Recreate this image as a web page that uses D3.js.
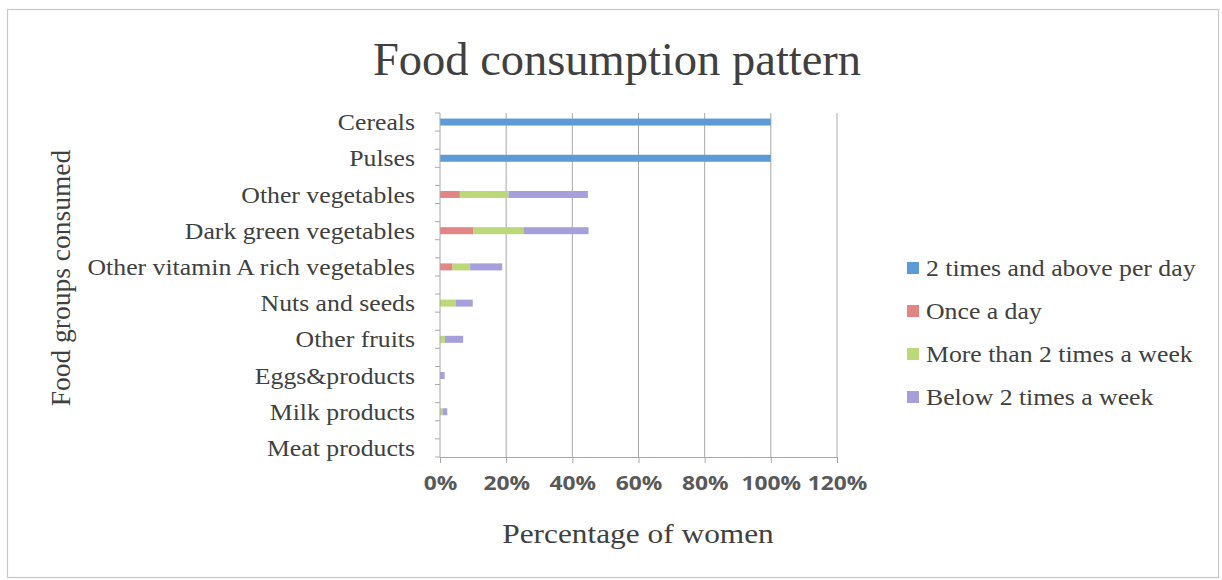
<!DOCTYPE html>
<html>
<head>
<meta charset="utf-8">
<script src="https://cdn.jsdelivr.net/npm/d3@7"></script>
<style>
  html, body { margin: 0; padding: 0; background: #fff; }
  svg { display: block; }
</style>
</head>
<body>
<svg id="chart" width="1222" height="580"></svg>
<script>
// Food groups, top to bottom
const categories = [
  "Cereals", "Pulses", "Other vegetables", "Dark green vegetables",
  "Other vitamin A rich vegetables", "Nuts and seeds", "Other fruits",
  "Eggs&products", "Milk products", "Meat products"
];
// Series (percent of women)
const seriesNames = [
  "2 times and above per day", "Once a day",
  "More than 2 times a week", "Below 2 times a week"
];
const twiceDaily   = [100, 100, 0, 0, 0, 0, 0, 0, 0, 0];
const onceDaily    = [0, 0, 6, 10, 3.8, 0, 0, 0, 0, 0];
const overTwiceWk  = [0, 0, 14.7, 15.2, 5.3, 4.8, 1.5, 0, 0.8, 0];
const underTwiceWk = [0, 0, 24, 19.7, 9.7, 5.1, 5.5, 1.4, 1.4, 0];
const xTicks = [0, 20, 40, 60, 80, 100, 120];
const colors = ["#5d9bd6", "#e38585", "#bcd97a", "#a5a0dc"];

const rows = categories.map((c, i) => ({
  category: c,
  [seriesNames[0]]: twiceDaily[i],
  [seriesNames[1]]: onceDaily[i],
  [seriesNames[2]]: overTwiceWk[i],
  [seriesNames[3]]: underTwiceWk[i]
}));

const svg = d3.select("#chart");
const serif = "'Liberation Serif', 'Times New Roman', serif";
const sans = "'Open Sans', 'Liberation Sans', sans-serif";
const textColor = "#404040";
const sx = 1.12; // slightly widened lettering

// Chart border
svg.append("rect")
  .attr("x", 7.5).attr("y", 9.5).attr("width", 1211).attr("height", 568)
  .attr("fill", "#fff").attr("stroke", "#c8c8c8").attr("stroke-width", 1.2);

const plot = { left: 440, right: 837, top: 113, bottom: 457 };

const x = d3.scaleLinear().domain([0, 120]).range([plot.left, plot.right]);
const y = d3.scalePoint().domain(categories).range([plot.top, plot.bottom]).padding(0.25);
const step = y.step();
const barH = 7;

// Vertical gridlines
svg.append("g")
  .selectAll("line")
  .data(xTicks.slice(1))
  .join("line")
  .attr("x1", d => x(d)).attr("x2", d => x(d))
  .attr("y1", plot.top).attr("y2", plot.bottom)
  .attr("stroke", "#a8a8a8").attr("stroke-width", 1);

// Stacked bars
const stack = d3.stack().keys(seriesNames);
const layers = stack(rows);
svg.append("g")
  .selectAll("g")
  .data(layers)
  .join("g")
  .attr("fill", (d, i) => colors[i])
  .selectAll("rect")
  .data(d => d)
  .join("rect")
  .attr("x", d => x(d[0]))
  .attr("width", d => Math.max(0, x(d[1]) - x(d[0])))
  .attr("y", d => y(d.data.category) - barH / 2)
  .attr("height", barH);

// X axis
const xAxis = d3.axisBottom(x)
  .tickValues(xTicks)
  .tickFormat(d => d + "%")
  .tickSize(6)
  .tickPadding(14);
const gx = svg.append("g")
  .attr("transform", `translate(0,${plot.bottom})`)
  .call(xAxis);
gx.select(".domain").attr("stroke", "#a8a8a8");
gx.selectAll(".tick line").attr("stroke", "#a8a8a8");
gx.selectAll(".tick text")
  .attr("fill", "#595959")
  .attr("transform", "scale(1.2,1)")
  .style("font-family", sans)
  .style("font-weight", "bold")
  .style("font-size", "19px");

// Y axis: line, ticks either side of each category, labels
const gy = svg.append("g");
gy.append("line")
  .attr("x1", plot.left).attr("x2", plot.left)
  .attr("y1", plot.top).attr("y2", plot.bottom)
  .attr("stroke", "#a8a8a8");
const yTickPos = [];
categories.forEach(c => { yTickPos.push(y(c) - step / 4, y(c) + step / 4); });
gy.selectAll("line.tk")
  .data(yTickPos)
  .join("line")
  .attr("class", "tk")
  .attr("x1", plot.left - 5).attr("x2", plot.left)
  .attr("y1", d => d).attr("y2", d => d)
  .attr("stroke", "#a8a8a8");
gy.selectAll("text")
  .data(categories)
  .join("text")
  .attr("transform", d => `translate(415,${y(d)}) scale(${sx},1)`)
  .attr("dy", "0.35em")
  .attr("text-anchor", "end")
  .attr("fill", textColor)
  .style("font-family", serif)
  .style("font-size", "23px")
  .text(d => d);

// Title
svg.append("text")
  .attr("x", 617).attr("y", 75)
  .attr("text-anchor", "middle")
  .attr("fill", textColor)
  .style("font-family", serif)
  .style("font-size", "46.5px")
  .text("Food consumption pattern");

// Axis titles
svg.append("text")
  .attr("transform", `translate(638,543) scale(${sx},1)`)
  .attr("text-anchor", "middle")
  .attr("fill", textColor)
  .style("font-family", serif)
  .style("font-size", "28px")
  .text("Percentage of women");

svg.append("text")
  .attr("transform", "translate(70,278) rotate(-90)")
  .attr("text-anchor", "middle")
  .attr("fill", textColor)
  .style("font-family", serif)
  .style("font-size", "27.5px")
  .text("Food groups consumed");

// Legend
const legend = svg.append("g")
  .selectAll("g")
  .data(seriesNames)
  .join("g")
  .attr("transform", (d, i) => `translate(907,${268 + i * 43})`);
legend.append("rect")
  .attr("x", 0).attr("y", -6).attr("width", 12).attr("height", 12)
  .attr("fill", (d, i) => colors[i]);
legend.append("text")
  .attr("transform", `translate(19,0) scale(${sx},1)`)
  .attr("dy", "0.35em")
  .attr("fill", textColor)
  .style("font-family", serif)
  .style("font-size", "23px")
  .text(d => d);
</script>
</body>
</html>
